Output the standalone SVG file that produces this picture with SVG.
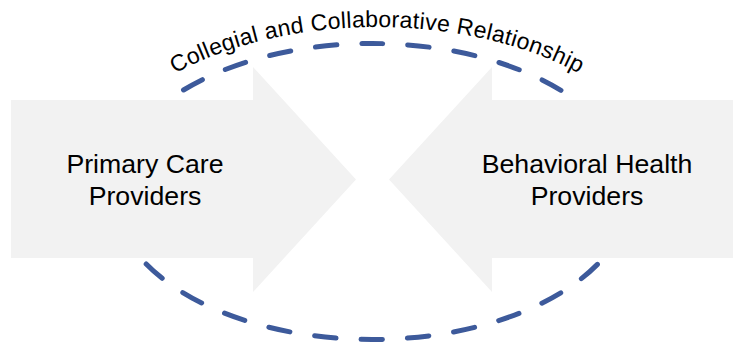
<svg xmlns="http://www.w3.org/2000/svg" width="734" height="345" viewBox="0 0 734 345">
  <style>
    .arrow { fill: #f2f2f2; stroke: none; }
    .label { font-family: "Liberation Sans", Arial, sans-serif; font-size: 26.7px; fill: #000; text-anchor: middle; }
    .arch { font-family: "Liberation Sans", Arial, sans-serif; font-size: 23px; letter-spacing: 0.3px; fill: #000; }
    .loop { fill: none; stroke: #3d5a9b; stroke-width: 5; stroke-linecap: round; stroke-dasharray: 21.5 25.02; stroke-dashoffset: 10.75; }
  </style>
  <defs>
    <!-- baseline for the arched caption -->
    <path id="archPath" d="M 86,193 A 291 166 0 0 1 668,193"/>
  </defs>
  <rect width="734" height="345" fill="#ffffff"/>

  <!-- dashed relationship loop, started at its top so dashes sit symmetric -->
  <g id="connectors">
    <path class="loop" d="M 372,43.5 A 259 148 0 0 1 372,339.5 A 259 148 0 0 1 372,43.5"/>
  </g>

  <g id="caption">
    <text class="arch"><textPath href="#archPath" startOffset="50%" text-anchor="middle">Collegial and Collaborative Relationship</textPath></text>
  </g>

  <g id="primary-care">
    <polygon class="arrow" points="11,100 253,100 253,67 356,179.5 253,292 253,258 11,258"/>
    <text class="label" x="145" y="173">Primary Care</text>
    <text class="label" x="145" y="205">Providers</text>
  </g>

  <g id="behavioral-health">
    <polygon class="arrow" points="733,100 492,100 492,67 389,179.5 492,292 492,258 733,258"/>
    <text class="label" x="587" y="173">Behavioral Health</text>
    <text class="label" x="587" y="205">Providers</text>
  </g>
</svg>
